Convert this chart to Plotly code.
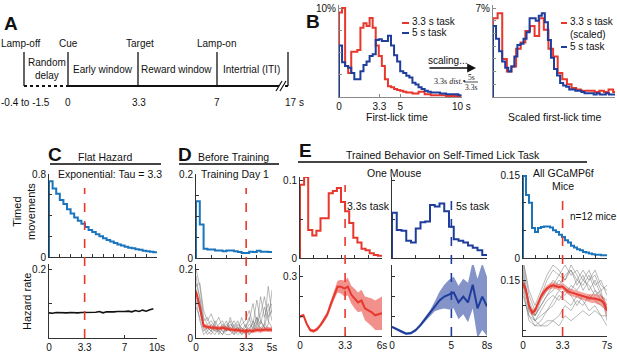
import plotly.graph_objects as go

W, H = 617, 354
FONT = "Liberation Sans, Arial, Helvetica, sans-serif"
RED = "#e8372c"
NAVY = "#1f3d9c"
MBLUE = "#1b75bc"

# ---------------- DATA ----------------
# Panel B left: first-lick time distributions (% trials), 0.25 s bins
b_bin = 0.25
b_red_33 = [9.5, 10.0, 3.5, 2.7, 5.1, 5.1, 5.3, 7.8, 8.3, 8.0, 8.9, 7.8, 5.8, 4.6, 3.5, 2.0,
            1.2, 1.1, 0.9, 0.8, 0.7, 0.6, 0.5, 0.5, 0.4, 0.4, 0.6, 0.6, 0.3, 0.3,
            0.2, 0.2, 0.2, 0.2, 0.2, 0.1, 0.1, 0.1, 0.1, 0.1]
b_blue_5 = [5.8, 3.9, 3.5, 3.3, 2.7, 2.0, 2.0, 2.9, 3.6, 4.0, 4.6, 4.8, 6.4, 6.5, 6.3, 6.3,
            6.9, 5.8, 4.7, 4.0, 2.9, 2.7, 2.4, 2.2, 1.6, 1.4, 1.1, 0.9, 0.7, 0.6,
            0.5, 0.5, 0.5, 0.4, 0.4, 0.3, 0.3, 0.3, 0.3, 0.2]
# Panel B right: scaled distributions
b_scaled_bin = 0.25 * 5 / 3.3
b_red_scaled = [6.2, 6.6, 3.0, 2.0, 2.4, 3.8, 4.3, 5.2, 5.6, 4.8, 6.2, 5.3, 3.8, 3.2, 1.9, 1.4,
                1.0, 0.7, 0.6, 0.5, 0.5, 0.5, 0.4, 0.5, 0.4, 0.6, 0.4]
b_blue_right = [5.6, 4.6, 3.6, 2.8, 2.3, 2.0, 2.4, 3.2, 4.1, 4.2, 4.6, 5.1, 6.2, 6.2, 6.0, 6.4,
                6.6, 5.9, 4.5, 3.1, 2.2, 1.7, 1.1, 0.9, 0.8, 0.6, 0.6, 0.5, 0.5, 0.4,
                0.3, 0.3, 0.3, 0.2, 0.3, 0.2, 0.2, 0.3, 0.2, 0.2]

# Panel C: exponential (tau = 3.3) timed movements and flat hazard
c_bin = 1 / 3
c_hist = [0.73, 0.66, 0.61, 0.55, 0.51, 0.46, 0.42, 0.38, 0.35, 0.32, 0.29, 0.26, 0.24, 0.22,
          0.20, 0.18, 0.165, 0.15, 0.135, 0.12, 0.11, 0.10, 0.09, 0.085, 0.075, 0.07, 0.06,
          0.055, 0.05, 0.045]
c_hazard = [0.073, 0.072, 0.074, 0.073, 0.072, 0.073, 0.074, 0.073, 0.073, 0.074, 0.074,
            0.075, 0.074, 0.075, 0.077, 0.073, 0.076, 0.075, 0.076, 0.077, 0.076, 0.077,
            0.078, 0.076, 0.080, 0.077, 0.081, 0.078, 0.082, 0.085]

# Panel D: before training (0.25 s grid)
d_bin = 0.25
d_hist = [0.135, 0.08, 0.022, 0.02, 0.02, 0.018, 0.018, 0.016, 0.018, 0.018, 0.016, 0.014,
          0.012, 0.012, 0.015, 0.014, 0.017, 0.015, 0.015, 0.014]
d_hazard = [0.135, 0.09, 0.035, 0.032, 0.03, 0.03, 0.028, 0.03, 0.027, 0.025, 0.024, 0.022,
            0.02, 0.02, 0.022, 0.02, 0.024, 0.022, 0.025, 0.024, 0.024]
d_hazard_sem = [0.01, 0.009, 0.007, 0.006, 0.006, 0.006, 0.006, 0.006, 0.006, 0.006, 0.006,
                0.006, 0.006, 0.006, 0.006, 0.006, 0.007, 0.007, 0.007, 0.007, 0.007]
d_mice = [
    [0.20, 0.15, 0.06, 0.04, 0.05, 0.03, 0.02, 0.04, 0.03, 0.05, 0.02, 0.03, 0.01, 0.02, 0.04, 0.03, 0.06, 0.04, 0.09, 0.05, 0.03],
    [0.18, 0.11, 0.04, 0.02, 0.01, 0.03, 0.02, 0.01, 0.03, 0.02, 0.01, 0.02, 0.03, 0.01, 0.02, 0.05, 0.03, 0.12, 0.06, 0.10, 0.05],
    [0.15, 0.16, 0.08, 0.05, 0.07, 0.04, 0.06, 0.03, 0.02, 0.04, 0.03, 0.05, 0.02, 0.03, 0.06, 0.02, 0.04, 0.03, 0.02, 0.04, 0.14],
    [0.12, 0.08, 0.03, 0.01, 0.02, 0.01, 0.03, 0.02, 0.01, 0.01, 0.02, 0.01, 0.02, 0.04, 0.01, 0.03, 0.02, 0.05, 0.03, 0.02, 0.03],
    [0.09, 0.06, 0.02, 0.03, 0.02, 0.04, 0.01, 0.03, 0.05, 0.02, 0.04, 0.02, 0.06, 0.03, 0.05, 0.10, 0.04, 0.07, 0.12, 0.06, 0.08],
    [0.16, 0.12, 0.05, 0.06, 0.03, 0.02, 0.04, 0.05, 0.02, 0.03, 0.05, 0.03, 0.01, 0.02, 0.03, 0.04, 0.02, 0.03, 0.04, 0.15, 0.07],
    [0.11, 0.05, 0.01, 0.02, 0.04, 0.02, 0.02, 0.01, 0.04, 0.03, 0.01, 0.04, 0.03, 0.02, 0.01, 0.02, 0.06, 0.02, 0.04, 0.03, 0.02],
    [0.14, 0.10, 0.04, 0.03, 0.02, 0.05, 0.03, 0.02, 0.02, 0.06, 0.03, 0.02, 0.04, 0.05, 0.08, 0.04, 0.11, 0.05, 0.03, 0.08, 0.10],
]

# Panel E, one mouse, 3.3 s task
e33_bin = 0.3
e33_hist = [0.094, 0.104, 0.036, 0.029, 0.035, 0.051, 0.051, 0.083, 0.086, 0.09, 0.072, 0.06,
            0.045, 0.026, 0.02, 0.012, 0.01, 0.006, 0.004, 0.003]
e33_dt = 0.25
e33_hazard = [0.098, 0.105, 0.06, 0.03, 0.025, 0.035, 0.055, 0.08, 0.11, 0.16, 0.21, 0.25,
              0.25, 0.24, 0.25, 0.21, 0.19, 0.17, 0.18, 0.14, 0.13, 0.12, 0.105, 0.11, 0.115]
e33_sem = [0.008, 0.008, 0.008, 0.008, 0.008, 0.01, 0.01, 0.012, 0.015, 0.02, 0.025, 0.03,
           0.035, 0.04, 0.045, 0.045, 0.05, 0.05, 0.055, 0.06, 0.065, 0.07, 0.075, 0.08, 0.085]

# Panel E, one mouse, 5 s task
e5_bin = 0.4
e5_hist = [0.058, 0.036, 0.035, 0.022, 0.02, 0.038, 0.046, 0.047, 0.068, 0.066, 0.07, 0.06,
           0.04, 0.024, 0.022, 0.02, 0.016, 0.013, 0.01, 0.004]
e5_dt = 0.4
e5_hazard = [0.046, 0.035, 0.02, 0.012, 0.015, 0.03, 0.055, 0.085, 0.115, 0.15, 0.18, 0.2,
             0.21, 0.22, 0.17, 0.2, 0.17, 0.26, 0.14, 0.2, 0.15]
e5_sem = [0.006, 0.006, 0.006, 0.006, 0.007, 0.008, 0.01, 0.012, 0.015, 0.025, 0.045, 0.06,
          0.075, 0.08, 0.085, 0.09, 0.1, 0.12, 0.15, 0.17, 0.15]

# Panel E, all GCaMP6f mice
eall_bin = 0.25
eall_hist = [0.148, 0.114, 0.10, 0.054, 0.047, 0.054, 0.056, 0.057, 0.057, 0.055, 0.05, 0.047,
             0.042, 0.038, 0.032, 0.028, 0.022, 0.019, 0.016, 0.014, 0.011, 0.01, 0.008, 0.007,
             0.006, 0.006, 0.005, 0.005]
eall_dt = 0.25
eall_hazard = [0.144, 0.13, 0.10, 0.086, 0.09, 0.105, 0.118, 0.127, 0.134, 0.138, 0.14, 0.138,
               0.136, 0.138, 0.133, 0.128, 0.126, 0.124, 0.122, 0.12, 0.118, 0.116, 0.115,
               0.114, 0.114, 0.112, 0.11, 0.105, 0.09]
eall_sem = [0.007, 0.007, 0.006, 0.006, 0.006, 0.006, 0.006, 0.006, 0.006, 0.006, 0.006, 0.006,
            0.006, 0.006, 0.006, 0.006, 0.007, 0.007, 0.007, 0.007, 0.008, 0.008, 0.008, 0.009,
            0.009, 0.01, 0.01, 0.011, 0.012]
eall_mice_dt = 0.5
eall_mice = [
    [0.18, 0.10, 0.08, 0.10, 0.12, 0.14, 0.16, 0.15, 0.17, 0.14, 0.16, 0.13, 0.15, 0.12, 0.10],
    [0.16, 0.09, 0.07, 0.08, 0.09, 0.10, 0.12, 0.11, 0.10, 0.12, 0.11, 0.09, 0.10, 0.08, 0.08],
    [0.19, 0.12, 0.09, 0.12, 0.15, 0.17, 0.16, 0.18, 0.16, 0.17, 0.15, 0.17, 0.14, 0.15, 0.12],
    [0.14, 0.08, 0.06, 0.06, 0.07, 0.07, 0.08, 0.10, 0.09, 0.11, 0.10, 0.12, 0.11, 0.10, 0.09],
    [0.15, 0.11, 0.08, 0.11, 0.13, 0.15, 0.14, 0.16, 0.17, 0.15, 0.14, 0.16, 0.13, 0.12, 0.11],
    [0.13, 0.07, 0.06, 0.07, 0.09, 0.11, 0.13, 0.12, 0.14, 0.13, 0.15, 0.14, 0.12, 0.13, 0.07],
    [0.19, 0.13, 0.10, 0.13, 0.16, 0.18, 0.17, 0.15, 0.18, 0.16, 0.13, 0.15, 0.17, 0.14, 0.13],
    [0.12, 0.08, 0.07, 0.09, 0.11, 0.12, 0.11, 0.13, 0.12, 0.10, 0.12, 0.11, 0.13, 0.11, 0.09],
    [0.17, 0.09, 0.08, 0.10, 0.12, 0.13, 0.15, 0.14, 0.13, 0.15, 0.17, 0.15, 0.16, 0.13, 0.14],
    [0.14, 0.10, 0.07, 0.06, 0.06, 0.07, 0.06, 0.08, 0.07, 0.08, 0.09, 0.08, 0.09, 0.08, 0.06],
]

# Panel A timeline labels
a_events = ["Lamp-off", "Cue", "Target", "Lamp-on"]
a_times = ["-0.4 to -1.5", "0", "3.3", "7", "17 s"]
a_windows = ["Random<br>delay", "Early window", "Reward window", "Intertrial (ITI)"]

# ---------------- HELPERS ----------------
def px(t):
    return t / W


def py(t):
    return 1 - t / H


def clamp(v):
    return max(0.0, min(1.0, v))


fig = go.Figure()
layout = {}
ann = []
shp = []


def add_axes(n, left, right, top, bottom, xr, yr, xtv=None, xtt=None, ytv=None, ytt=None,
             color="#333"):
    sfx = "" if n == 1 else str(n)
    common = dict(showgrid=False, zeroline=False, showline=True, linecolor=color, linewidth=1,
                  ticks="inside", ticklen=3, tickcolor=color, tickwidth=1, automargin=False,
                  tickfont=dict(size=10, color="#111", family=FONT), fixedrange=True)
    xa = dict(domain=[clamp(px(left)), clamp(px(right))], range=xr, anchor="y" + sfx, **common)
    ya = dict(domain=[clamp(py(bottom)), clamp(py(top))], range=yr, anchor="x" + sfx, **common)
    if xtv is not None:
        xa["tickmode"] = "array"
        xa["tickvals"] = xtv
        xa["ticktext"] = xtt if xtt is not None else [""] * len(xtv)
    else:
        xa["showticklabels"] = False
        xa["ticks"] = ""
    if ytv is not None:
        ya["tickmode"] = "array"
        ya["tickvals"] = ytv
        ya["ticktext"] = ytt if ytt is not None else [""] * len(ytv)
    else:
        ya["showticklabels"] = False
        ya["ticks"] = ""
    layout["xaxis" + sfx] = xa
    layout["yaxis" + sfx] = ya
    return "x" + sfx, "y" + sfx


def step_xy(vals, w):
    xs = [0.0]
    ys = [0.0]
    for i, v in enumerate(vals):
        xs.append(i * w)
        ys.append(v)
    xs.append(len(vals) * w)
    ys.append(vals[-1])
    return xs, ys


def add_hist(vals, w, ax, color, width=2):
    xs, ys = step_xy(vals, w)
    fig.add_trace(go.Scatter(x=xs, y=ys, mode="lines", line=dict(color=color, width=width, shape="hv"),
                             xaxis=ax[0], yaxis=ax[1], showlegend=False, hoverinfo="skip"))


def add_hazard(mean, sem, dt, ax, color, fill):
    t = [i * dt for i in range(len(mean))]
    up = [m + s for m, s in zip(mean, sem)]
    lo = [m - s for m, s in zip(mean, sem)]
    fig.add_trace(go.Scatter(x=t + t[::-1], y=up + lo[::-1], fill="toself", fillcolor=fill,
                             line=dict(width=0), mode="lines", xaxis=ax[0], yaxis=ax[1],
                             showlegend=False, hoverinfo="skip"))
    fig.add_trace(go.Scatter(x=t, y=mean, mode="lines", line=dict(color=color, width=2),
                             xaxis=ax[0], yaxis=ax[1], showlegend=False, hoverinfo="skip"))


def add_gray(lines, dt, ax):
    for ln in lines:
        t = [i * dt for i in range(len(ln))]
        fig.add_trace(go.Scatter(x=t, y=ln, mode="lines", line=dict(color="rgba(110,110,110,0.6)", width=0.8),
                                 xaxis=ax[0], yaxis=ax[1], showlegend=False, hoverinfo="skip"))


def text(x, y, s, size=10.5, anchor="center", **kw):
    ann.append(dict(x=px(x), y=py(y), xref="paper", yref="paper", text=s, showarrow=False,
                    font=dict(size=size, family=FONT, color="#111"), xanchor=anchor,
                    yanchor="middle", **kw))


def pline(x0, y0, x1, y1, color="#111", width=1, dash=None):
    shp.append(dict(type="line", xref="paper", yref="paper", x0=px(x0), y0=py(y0), x1=px(x1),
                    y1=py(y1), line=dict(color=color, width=width, dash=dash)))


def vdash(ax, xv, top, bottom, color):
    shp.append(dict(type="line", xref=ax[0], yref="paper", x0=xv, x1=xv, y0=py(bottom), y1=py(top),
                    line=dict(color=color, width=1.6, dash="dash")))


# ---------------- AXES ----------------
GRAY = "#8a8a8a"
axB1 = add_axes(1, 339, 462, 5, 97, [0, 10.05], [0, 10.35], [0, 3.3, 5, 10], ["0", "3.3", "5", "10 s"],
                [0, 2.5, 5, 7.5, 10], ["", "", "", "", "10%"], color=GRAY)
axB2 = add_axes(2, 493, 615, 5, 97, [0, 10], [0, 7.25], None, None,
                [0, 1, 2, 3, 4, 5, 6, 7], ["", "", "", "", "", "", "", "7%"], color=GRAY)
axC1 = add_axes(3, 49, 157, 174, 257, [0, 10], [0, 0.8], list(range(11)), None,
                [0, 0.2, 0.4, 0.6, 0.8], ["0", "", "", "", "0.8"])
axC2 = add_axes(4, 49, 157, 264, 338, [0, 10], [0, 0.215], [0, 3.3, 7, 10], ["0", "3.3", "7", "10s"],
                [0, 0.1, 0.2], ["", "", "0.2"])
axD1 = add_axes(5, 196, 272, 174, 258, [0, 5], [0, 0.2], [0, 1, 2, 3, 4, 5], None,
                [0, 0.05, 0.1, 0.15, 0.2], ["0", "", "", "", "0.2"])
axD2 = add_axes(6, 196, 272, 264, 338, [0, 5], [0, 0.215], [0, 3.3, 5], ["0", "3.3", "5s"],
                [0, 0.1, 0.2], ["0", "", "0.2"])
axE1 = add_axes(7, 300, 382, 177, 258, [0, 6], [0, 0.104], [0, 1, 2, 3, 4, 5, 6], None,
                [0, 0.05, 0.1], ["0", "", "0.1"])
axE2 = add_axes(8, 300, 382, 265, 336, [0, 6], [0, 0.36], [0, 3.3, 6], ["0", "3.3", "6s"],
                [0.1, 0.2, 0.3], ["", "", "0.3"])
axE3 = add_axes(9, 392, 487, 177, 258, [0, 8], [0, 0.104], [0, 2, 4, 6, 8], None,
                [0, 0.05, 0.1], None)
axE4 = add_axes(10, 392, 487, 265, 336, [0, 8], [0, 0.36], [0, 5, 8], ["0", "5", "8s"],
                [0.1, 0.2, 0.3], None)
axE5 = add_axes(11, 523, 607, 175, 258, [0, 7], [0, 0.15], [0, 1, 2, 3, 4, 5, 6, 7], None,
                [0, 0.05, 0.1, 0.15], ["0", "", "", "0.15"])
axE6 = add_axes(12, 523, 607, 265, 336, [0, 7], [0.04, 0.18], [0, 3.3, 7], ["0", "3.3", "7s"],
                [0.05, 0.1, 0.15], ["", "", "0.15"])

# ---------------- TRACES ----------------
add_hist(b_red_33, b_bin, axB1, RED)
add_hist(b_blue_5, b_bin, axB1, NAVY)
add_hist(b_red_scaled, b_scaled_bin, axB2, RED)
add_hist(b_blue_right, b_bin, axB2, NAVY)

add_hist(c_hist, c_bin, axC1, MBLUE)
fig.add_trace(go.Scatter(x=[i * c_bin for i in range(len(c_hazard))], y=c_hazard, mode="lines",
                         line=dict(color="#111", width=1.6), xaxis=axC2[0], yaxis=axC2[1],
                         showlegend=False, hoverinfo="skip"))

add_hist(d_hist, d_bin, axD1, MBLUE)
add_gray(d_mice, d_bin, axD2)
add_hazard(d_hazard, d_hazard_sem, d_bin, axD2, RED, "rgba(232,55,44,0.45)")

add_hist(e33_hist, e33_bin, axE1, RED)
add_hazard(e33_hazard, e33_sem, e33_dt, axE2, RED, "rgba(232,55,44,0.55)")
add_hist(e5_hist, e5_bin, axE3, NAVY)
add_hazard(e5_hazard, e5_sem, e5_dt, axE4, NAVY, "rgba(31,61,156,0.55)")
add_hist(eall_hist, eall_bin, axE5, MBLUE)
add_gray(eall_mice, eall_mice_dt, axE6)
add_hazard(eall_hazard, eall_sem, eall_dt, axE6, RED, "rgba(232,55,44,0.45)")

# dashed markers
vdash(axC1, 3.3, 188, 338, RED)
vdash(axD1, 3.3, 188, 338, RED)
vdash(axE1, 3.3, 185, 336, RED)
vdash(axE3, 5, 200, 336, NAVY)
vdash(axE5, 3.3, 197, 336, RED)

# ---------------- PANEL A (timeline diagram) ----------------
text(11, 23, "<b>A</b>", 19)
ev_x = [24, 68, 138, 217, 288]
for xv in ev_x:
    pline(xv, 52, xv, 86, "#111", 1.3)
pline(24, 86, 68, 86, "#111", 2.2, "dot")
pline(68, 86, 288, 86, "#111", 2.2)
pline(279, 86, 285, 86, "white", 4)
pline(276, 91, 282, 81, "#111", 1.2)
pline(280, 91, 286, 81, "#111", 1.2)
for lbl, xv in zip(a_events, [21, 68, 140, 216]):
    text(xv, 44, lbl, 10)
for lbl, xv in zip(a_windows, [47, 103, 177, 251]):
    text(xv, 69, lbl, 10)
for lbl, xv in zip(a_times, [25, 68, 139, 217, 294]):
    text(xv, 102, lbl, 10)

# ---------------- PANEL B annotations ----------------
text(313, 22, "<b>B</b>", 19)
text(397, 117, "First-lick time", 10.5)
text(555, 117, "Scaled first-lick time", 10.5)
pline(402, 23, 409, 23, RED, 2)
text(410, 22, "3.3 s task", 10, anchor="left")
pline(402, 33, 409, 33, NAVY, 2)
text(410, 33, "5 s task", 10, anchor="left")
pline(561, 23, 567, 23, RED, 2)
text(568, 22, "3.3 s task", 10, anchor="left")
text(568, 34, "(scaled)", 10, anchor="left")
pline(561, 47, 567, 47, NAVY, 2)
text(568, 47, "5 s task", 10, anchor="left")
text(447, 60, "scaling...", 10)
ann.append(dict(x=px(476), y=py(68), xref="paper", yref="paper", text="", showarrow=True,
                ax=-48, ay=0, arrowhead=2, arrowsize=1.1, arrowwidth=1.6, arrowcolor="#111"))
ann.append(dict(x=px(450), y=py(82), xref="paper", yref="paper", text="3.3s <i>dist.</i>\u2022",
                showarrow=False, font=dict(size=8, family="Liberation Serif, Times New Roman, serif",
                                           color="#222"), xanchor="center", yanchor="middle"))
ann.append(dict(x=px(471), y=py(77.5), xref="paper", yref="paper", text="5s", showarrow=False,
                font=dict(size=7.5, family="Liberation Serif, serif", color="#222"),
                xanchor="center", yanchor="middle"))
ann.append(dict(x=px(471), y=py(87), xref="paper", yref="paper", text="3.3s", showarrow=False,
                font=dict(size=7.5, family="Liberation Serif, serif", color="#222"),
                xanchor="center", yanchor="middle"))
pline(464, 82, 478, 82, "#222", 0.8)

# ---------------- C / D / E headers ----------------
text(55, 154, "<b>C</b>", 19)
text(105, 157, "Flat Hazard")
pline(50, 164, 161, 164, "#444", 2)
text(185, 154, "<b>D</b>", 19)
text(233, 157, "Before Training")
pline(179, 164, 279, 164, "#444", 2)
text(305, 150, "<b>E</b>", 19)
text(443, 155, "Trained Behavior on Self-Timed Lick Task")
pline(298, 162, 587, 162, "#444", 2)

text(110, 174, "Exponential: Tau = 3.3")
text(235, 174, "Training Day 1")
text(394, 173, "One Mouse")
text(563, 173, "All GCaMP6f")
text(563, 186, "Mice")
text(368, 206, "3.3s task")
text(473, 206, "5s task")
text(568, 217, "n=12 mice", 10, anchor="left")

text(24, 212, "Timed<br>movements", 11, textangle=-90)
text(27, 302, "Hazard rate", 11, textangle=-90)

fig.update_layout(
    template="none",
    width=W, height=H, margin=dict(l=0, r=0, t=0, b=0, autoexpand=False),
    paper_bgcolor="white", plot_bgcolor="white", showlegend=False,
    font=dict(family=FONT, size=10, color="#111"),
    annotations=ann, shapes=shp, **layout,
)
# remove the default 8 px page margin so the 617x354 figure fills the window exactly
fig.write_html("out.html", config={"displayModeBar": False, "staticPlot": True},
               post_script="document.body.style.margin='0px';document.body.style.overflow='hidden';")
